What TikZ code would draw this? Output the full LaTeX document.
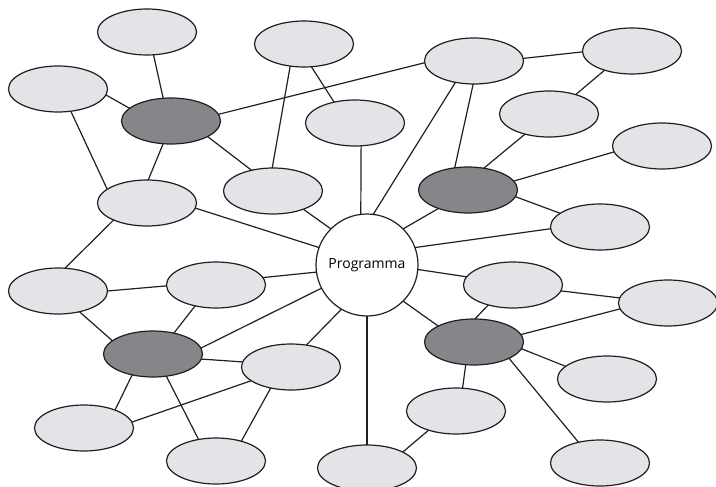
\documentclass[tikz,border=0pt]{standalone}
\usepackage{fontspec}
\setmainfont{Open Sans}
\usetikzlibrary{shapes.geometric,backgrounds}
\definecolor{bubblefill}{HTML}{E3E4E8}
\definecolor{hubfill}{HTML}{87848A}
\definecolor{ink}{HTML}{231F20}
\begin{document}
\begin{tikzpicture}[x=1pt,y=-1pt,
  bubble/.style={ellipse,draw=ink,line width=1.2pt,fill=bubblefill,
    minimum width=99pt,minimum height=46pt,inner sep=0pt,outer sep=0pt},
  hubnode/.style={bubble,fill=hubfill},
  core/.style={circle,draw=ink,line width=1.2pt,fill=white,minimum size=102pt,
    inner sep=0pt,outer sep=0pt,font=\fontsize{14}{17}\selectfont},
  link/.style={draw=ink,line width=1.2pt}]
\useasboundingbox (0,0) rectangle (716,487);

% central topic
\node[core] (prog) at (367,265) {Programma};

% four secondary hubs
\node[hubnode] (h1) at (171,121) {};
\node[hubnode] (h2) at (468,190) {};
\node[hubnode] (h3) at (153,354) {};
\node[hubnode] (h4) at (474,342) {};

% outer bubbles
\node[bubble] (a) at (147,32) {};
\node[bubble] (b) at (58,89) {};
\node[bubble] (c) at (304,44) {};
\node[bubble] (d) at (355,123) {};
\node[bubble] (e) at (147,203) {};
\node[bubble] (f) at (273,191) {};
\node[bubble] (g) at (474,61) {};
\node[bubble] (h) at (632,51) {};
\node[bubble] (i) at (549,114) {};
\node[bubble] (j) at (662,146) {};
\node[bubble] (k) at (600,227) {};
\node[bubble] (l) at (58,291) {};
\node[bubble] (m) at (216,285) {};
\node[bubble] (n) at (291,367) {};
\node[bubble] (o) at (84,428) {};
\node[bubble] (p) at (216,461) {};
\node[bubble] (q) at (367,468) {};
\node[bubble] (r) at (513,285) {};
\node[bubble] (s) at (668,303) {};
\node[bubble] (t) at (607,379) {};
\node[bubble] (u) at (456,411) {};
\node[bubble] (v) at (600,463) {};

\begin{scope}[on background layer]
  % upper left cluster
  \draw[link] (a.-74) -- (h1.109);
  \draw[link] (b.-7) -- (h1.163);
  \draw[link] (b.-60) -- (e.161);
  \draw[link] (h1.251) -- (e.87);
  \draw[link] (h1.-23) -- (f.136);
  \draw[link] (h1.8) -- (g.182);
  \draw[link] (c.238) -- (f.92);
  \draw[link] (c.-72) -- (d.135);
  \draw[link] (d.-75) -- (prog.97);
  \draw[link] (f.-31) -- (prog.135);
  \draw[link] (e.-6) -- (prog.160);
  \draw[link] (e.207) -- (l.73);
  % upper right cluster
  \draw[link] (g.3) -- (h.181);
  \draw[link] (h.215) -- (i.36);
  \draw[link] (g.229) -- (prog.83);
  \draw[link] (g.268) -- (h2.121);
  \draw[link] (i.220) -- (h2.54);
  \draw[link] (j.187) -- (h2.11);
  \draw[link] (h2.-8) -- (k.161);
  \draw[link] (h2.212) -- (prog.45);
  \draw[link] (k.182) -- (prog.20);
  % lower left cluster
  \draw[link] (l.0) -- (m.181);
  \draw[link] (m.9) -- (prog.188);
  \draw[link] (l.-44) -- (h3.162);
  \draw[link] (m.225) -- (h3.45);
  \draw[link] (h3.7) -- (prog.207);
  \draw[link] (h3.-6) -- (n.174);
  \draw[link] (n.55) -- (prog.240);
  \draw[link] (h3.225) -- (o.30);
  \draw[link] (h3.-59) -- (p.129);
  \draw[link] (n.199) -- (o.7);
  \draw[link] (n.226) -- (p.38);
  % lower right cluster
  \draw[link] (prog.-5) -- (r.170);
  \draw[link] (prog.-45) -- (h4.156);
  \draw[link] (r.219) -- (h4.88);
  \draw[link] (r.-7) -- (s.174);
  \draw[link] (h4.9) -- (s.187);
  \draw[link] (h4.-8) -- (t.163);
  \draw[link] (h4.250) -- (u.74);
  \draw[link] (h4.-25) -- (v.136);
  \draw[link] (prog.-90) -- (q.90);
  \draw[link] (u.215) -- (q.24);
\end{scope}
\end{tikzpicture}
\end{document}
